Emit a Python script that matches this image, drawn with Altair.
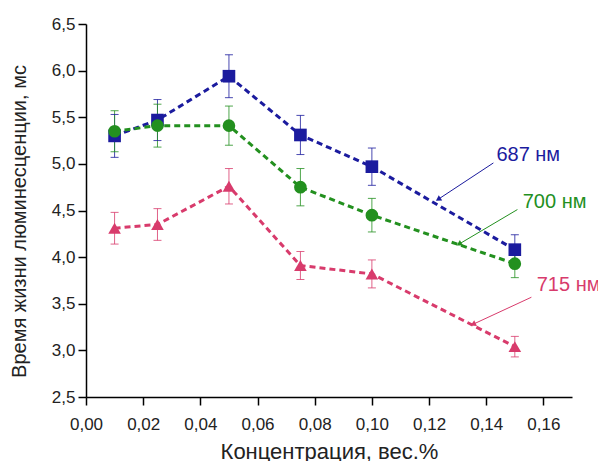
import altair as alt
import pandas as pd

# ---- data ----
conc = [0.01, 0.025, 0.05, 0.075, 0.10, 0.15]
series_names = ["687 нм", "700 нм", "715 нм"]
tau_687 = [5.30, 5.47, 5.94, 5.31, 4.97, 4.08]
err_687 = [0.23, 0.22, 0.23, 0.21, 0.20, 0.16]
tau_700 = [5.35, 5.41, 5.41, 4.75, 4.45, 3.93]
err_700 = [0.22, 0.23, 0.21, 0.20, 0.18, 0.15]
tau_715 = [4.31, 4.35, 4.76, 3.91, 3.82, 3.04]
err_715 = [0.17, 0.17, 0.19, 0.15, 0.15, 0.11]

# annotation: label position, arrow start, arrow end (data units)
ann_text_x = [0.1547, 0.1639, 0.1688]
ann_text_y = [5.10, 4.59, 3.70]
ann_x1 = [0.1425, 0.1509, 0.1558]
ann_y1 = [5.01, 4.51, 3.57]
ann_x2 = [0.1232, 0.1305, 0.1354]
ann_y2 = [4.62, 4.14, 3.28]
ann_angle = [237, 240, 245]

x_ticks = [round(i * 0.01, 2) for i in range(0, 18)]
y_ticks = [round(2.5 + i * 0.25, 2) for i in range(0, 17)]

colors = ["#1b1b9e", "#23901f", "#d83b6c"]
shapes = ["square", "circle", "triangle-up"]
top_text = ", вошедших в состав нанокристаллов."

rows = []
for name, vals, errs in zip(series_names, [tau_687, tau_700, tau_715], [err_687, err_700, err_715]):
    for xv, v, e in zip(conc, vals, errs):
        rows.append({"series": name, "x": xv, "y": v, "lo": v - e, "hi": v + e})
df = pd.DataFrame(rows)

ann = pd.DataFrame({
    "series": series_names, "tx": ann_text_x, "ty": ann_text_y,
    "x1": ann_x1, "y1": ann_y1, "x2": ann_x2, "y2": ann_y2, "angle": ann_angle,
})

xscale = alt.Scale(domain=[0, 0.17], nice=False, zero=False)
yscale = alt.Scale(domain=[2.5, 6.5], nice=False, zero=False)
cscale = alt.Scale(domain=series_names, range=colors)
sscale = alt.Scale(domain=series_names, range=shapes)

xaxis = alt.Axis(
    title="Концентрация, вес.%", values=x_ticks,
    labelExpr="round(datum.value*100) % 2 == 0 ? replace(format(datum.value, '.2f'), '.', ',') : ''",
    tickSize={"condition": {"test": "round(datum.value*100) % 2 == 0", "value": 8}, "value": 5},
    labelPadding=11, titlePadding=9, titleFontSize=22, labelFlush=False, labelOverlap=False,
)
yaxis = alt.Axis(
    title="Время жизни люминесценции, мс", values=y_ticks,
    labelExpr="round(datum.value*100) % 50 == 0 ? replace(format(datum.value, '.1f'), '.', ',') : ''",
    tickSize={"condition": {"test": "round(datum.value*100) % 50 == 0", "value": 8}, "value": 5},
    labelPadding=3, titlePadding=22, titleFontSize=20, titleY=197, labelFlush=False, labelOverlap=False,
)

base = alt.Chart(df)
X = alt.X("x:Q", scale=xscale, axis=xaxis)
Y = alt.Y("y:Q", scale=yscale, axis=yaxis)
C = alt.Color("series:N", scale=cscale, legend=None)

err_rules = base.mark_rule(strokeWidth=1, opacity=0.8).encode(
    x=alt.X("x:Q", scale=xscale), y=alt.Y("lo:Q", scale=yscale), y2="hi:Q", color=C)
cap_hi = base.mark_tick(orient="horizontal", size=8, thickness=1, opacity=0.8).encode(
    x=alt.X("x:Q", scale=xscale), y=alt.Y("hi:Q", scale=yscale), color=C)
cap_lo = base.mark_tick(orient="horizontal", size=8, thickness=1, opacity=0.8).encode(
    x=alt.X("x:Q", scale=xscale), y=alt.Y("lo:Q", scale=yscale), color=C)
lines = base.mark_line(strokeWidth=3, strokeDash=[6, 4]).encode(
    x=X, y=Y, color=C, detail="series:N")
points = base.mark_point(filled=True, opacity=1, size=160).encode(
    x=alt.X("x:Q", scale=xscale), y=alt.Y("y:Q", scale=yscale), color=C,
    shape=alt.Shape("series:N", scale=sscale, legend=None))

abase = alt.Chart(ann)
arrows = abase.mark_rule(strokeWidth=1).encode(
    x=alt.X("x1:Q", scale=xscale), y=alt.Y("y1:Q", scale=yscale),
    x2="x2:Q", y2="y2:Q", color=C)
heads = abase.mark_point(shape="triangle-up", filled=True, opacity=1, size=40).encode(
    x=alt.X("x2:Q", scale=xscale), y=alt.Y("y2:Q", scale=yscale), color=C,
    angle=alt.Angle("angle:Q", scale=None))
labels = abase.mark_text(fontSize=20, font="Liberation Sans", align="center", baseline="middle").encode(
    x=alt.X("tx:Q", scale=xscale), y=alt.Y("ty:Q", scale=yscale), color=C, text="series:N")

chart = alt.layer(err_rules, cap_hi, cap_lo, lines, points, arrows, heads, labels).properties(
    width=486, height=373,
    background="white",
    autosize=alt.AutoSizeParams(type="none"),
    padding={"left": 78, "top": 16, "right": 26, "bottom": 66},
    title=alt.TitleParams(text=top_text, anchor="start", frame="group", font="Liberation Serif",
                          fontSize=25, fontWeight="normal", color="black", offset=12, dx=-84),
).configure_view(stroke=None).configure_axis(
    grid=False, domainColor="black", domainWidth=1.5, tickColor="black", tickWidth=1.5,
    labelFont="Liberation Sans", labelFontSize=17, labelColor="#222",
    titleFont="Liberation Sans", titleFontSize=18, titleFontWeight="normal", titleColor="#222",
)

chart.save("out.html", embed_options={"renderer": "svg", "actions": False})
